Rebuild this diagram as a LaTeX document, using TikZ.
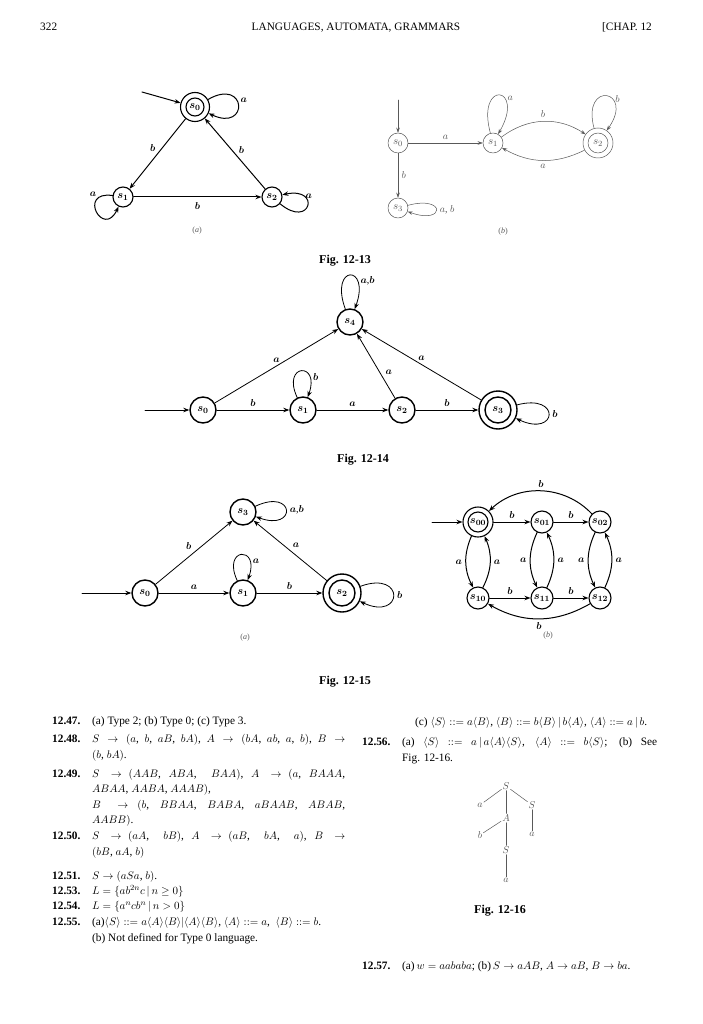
\documentclass[tikz,border=0pt]{standalone}
\usepackage{fontspec}
\setmainfont{Liberation Serif}
\usetikzlibrary{arrows.meta}
\newcommand\deff{\mathrel{::=}}
\newcommand\ang[1]{\langle #1\rangle}
\colorlet{figgray}{black!65}
\tikzset{
  txt/.style={anchor=base west,inner sep=0pt,font=\fontsize{11.3}{13}\selectfont},
  num/.style={txt,font=\fontsize{11.3}{13}\selectfont\bfseries},
  figcap/.style={anchor=base,inner sep=0pt,font=\fontsize{12}{14}\selectfont\bfseries},
  bfig/.style={font=\fontsize{10}{12}\selectfont\boldmath},
  gfig/.style={font=\fontsize{10}{12}\selectfont,color=figgray},
  bst/.style={circle,draw,line width=1.1pt,minimum size=20pt,inner sep=0pt,font=\fontsize{11}{13}\selectfont\boldmath},
  hst/.style={circle,draw,line width=1.4pt,minimum size=26pt,inner sep=0pt,font=\fontsize{11}{13}\selectfont\boldmath},
  mst/.style={circle,draw,line width=1.1pt,minimum size=22pt,inner sep=0pt,font=\fontsize{11}{13}\selectfont\boldmath},
  gst/.style={circle,draw=figgray,line width=.5pt,minimum size=20pt,inner sep=0pt,font=\fontsize{11}{13}\selectfont},
  bedge/.style={->,line width=1pt},
  hedge/.style={->,line width=.8pt},
  gedge/.style={->,draw=figgray,line width=.5pt,>={Stealth[length=5pt,width=3.5pt]}},
  tnode/.style={inner sep=1pt,font=\fontsize{10}{11}\selectfont,text=figgray},
}
\begin{document}
\begin{tikzpicture}[x=1pt,y=1pt,line join=round,line cap=round,>={Stealth[length=6pt,width=4.5pt]}]
\fill[white] (0,0) rectangle (703,-1024);
\useasboundingbox (0,0) rectangle (703,-1024);
% running head
\node[txt] (page) at (40,-31) {322};
\node[txt,anchor=base] (head) at (356,-31) {LANGUAGES, AUTOMATA, GRAMMARS};
\node[txt,anchor=base east] (chap) at (652,-31) {[CHAP. 12};

% Fig. 12-13 (a)
\begin{scope}[bfig]
\node[bst,minimum size=29pt] (a0) at (195,-107) {$s_0$};
\draw[line width=1.1pt] (a0.center) circle[radius=9pt];
\node[bst] (a1) at (123,-197) {$s_1$};
\node[bst] (a2) at (272,-197) {$s_2$};
\coordinate (ain) at (142,-92);
\draw[bedge] (ain) -- (a0);
\draw[bedge] (a0) -- node[pos=.42,left=3pt] {$b$} (a1);
\draw[bedge] (a2) -- node[pos=.55,right=3pt] {$b$} (a0);
\draw[bedge] (a1) -- node[below=2pt] {$b$} (a2);
\draw[bedge] (a0) to[out=30,in=-25,min distance=45pt] node[pos=.4,right] {$a$} (a0);
\draw[bedge] (a1) to[out=172,in=-115,min distance=36pt] node[pos=.2,above left=-2pt] {$a$} (a1);
\draw[bedge] (a2) to[out=-40,in=12,min distance=40pt] node[pos=.75,right=-1pt] {$a$} (a2);
\node[font=\footnotesize,color=figgray] (capa) at (197,-231) {(\textit{a})};
\end{scope}

% Fig. 12-13 (b)
\begin{scope}[gfig]
\node[gst] (b0) at (398,-143) {$s_0$};
\node[gst] (b1) at (493,-143) {$s_1$};
\node[gst,minimum size=30pt] (b2) at (598,-143) {$s_2$};
\draw[figgray,line width=.5pt] (b2.center) circle[radius=10pt];
\node[gst] (b3) at (398,-208) {$s_3$};
\coordinate (bin) at (398,-100);
\draw[gedge] (bin) -- (b0);
\draw[gedge] (b0) -- node[above] {$a$} (b1);
\draw[gedge] (b1) to[bend left=35] node[above] {$b$} (b2);
\draw[gedge] (b2) to[bend left=28] node[below] {$a$} (b1);
\draw[gedge] (b0) -- node[right] {$b$} (b3);
\draw[gedge] (b1) to[out=105,in=60,min distance=56pt] node[pos=.62,right] {$a$} (b1);
\draw[gedge] (b2) to[out=105,in=55,min distance=50pt] node[pos=.62,right] {$b$} (b2);
\draw[gedge] (b3) to[out=15,in=-20,min distance=40pt] node[pos=.5,right] {$a$, $b$} (b3);
\node[font=\footnotesize] (capb) at (503,-232) {(\textit{b})};
\end{scope}
\node[figcap] (fig13) at (345,-263) {Fig. 12-13};

% Fig. 12-14
\begin{scope}[bfig]
\node[hst] (c4) at (350,-322) {$s_4$};
\node[hst] (c0) at (203,-410) {$s_0$};
\node[hst] (c1) at (303,-410) {$s_1$};
\node[hst] (c2) at (402,-410) {$s_2$};
\node[hst,minimum size=38pt] (c3) at (498,-410) {$s_3$};
\draw[line width=1.4pt] (c3.center) circle[radius=13pt];
\coordinate (cin) at (145,-410);
\draw[hedge] (cin) -- (c0);
\draw[hedge] (c0) -- node[above] {$a$} (c4);
\draw[hedge] (c0) -- node[above] {$b$} (c1);
\draw[hedge] (c1) -- node[above] {$a$} (c2);
\draw[hedge] (c2) -- node[above] {$b$} (c3);
\draw[hedge] (c2) -- node[pos=.4,right=2pt] {$a$} (c4);
\draw[hedge] (c3) -- node[above] {$a$} (c4);
\draw[hedge] (c4) to[out=110,in=70,min distance=48pt] node[pos=.7,right] {$a$,$b$} (c4);
\draw[hedge] (c1) to[out=115,in=70,min distance=38pt] node[pos=.75,right] {$b$} (c1);
\draw[hedge] (c3) to[out=15,in=-25,min distance=46pt] node[right] {$b$} (c3);
\end{scope}
\node[figcap] (fig14) at (363,-462) {Fig. 12-14};

% Fig. 12-15 (a)
\begin{scope}[bfig]
\node[hst] (d3) at (243,-512) {$s_3$};
\node[hst] (d0) at (145,-593) {$s_0$};
\node[hst] (d1) at (243,-593) {$s_1$};
\node[hst,minimum size=38pt] (d2) at (342,-593) {$s_2$};
\draw[line width=1.4pt] (d2.center) circle[radius=13pt];
\coordinate (din) at (82,-593);
\draw[hedge] (din) -- (d0);
\draw[hedge] (d0) -- node[above left=-1pt] {$b$} (d3);
\draw[hedge] (d0) -- node[above] {$a$} (d1);
\draw[hedge] (d1) -- node[above] {$b$} (d2);
\draw[hedge] (d2) -- node[above right=-1pt] {$a$} (d3);
\draw[hedge] (d3) to[out=25,in=-20,min distance=44pt] node[right] {$a$,$b$} (d3);
\draw[hedge] (d1) to[out=115,in=70,min distance=37pt] node[pos=.75,right] {$a$} (d1);
\draw[hedge] (d2) to[out=20,in=-25,min distance=48pt] node[right] {$b$} (d2);
\node[font=\footnotesize,color=figgray] (capc) at (245,-638) {(\textit{a})};
\end{scope}

% Fig. 12-15 (b)
\begin{scope}[bfig]
\node[mst,minimum size=30pt] (e00) at (478,-522) {$s_{00}$};
\draw[line width=1.1pt] (e00.center) circle[radius=10pt];
\node[mst] (e01) at (542,-522) {$s_{01}$};
\node[mst] (e02) at (600,-522) {$s_{02}$};
\node[mst] (e10) at (478,-598) {$s_{10}$};
\node[mst] (e11) at (542,-598) {$s_{11}$};
\node[mst] (e12) at (600,-598) {$s_{12}$};
\coordinate (ein) at (432,-522);
\draw[bedge] (ein) -- (e00);
\draw[bedge] (e00) -- node[above] {$b$} (e01);
\draw[bedge] (e01) -- node[above] {$b$} (e02);
\draw[bedge] (e10) -- node[above] {$b$} (e11);
\draw[bedge] (e11) -- node[above] {$b$} (e12);
\foreach \u/\d in {e00/e10,e01/e11,e02/e12}{
  \draw[bedge] (\u) to[bend right=25] node[left] {$a$} (\d);
  \draw[bedge] (\d) to[bend right=25] node[right] {$a$} (\u);
}
\draw[bedge] (e02) to[bend right=45] node[above] {$b$} (e00);
\draw[bedge] (e12) to[bend left=30] node[below] {$b$} (e10);
\node[font=\footnotesize,color=figgray] (capd) at (548,-636) {(\textit{b})};
\end{scope}
\node[figcap] (fig15) at (345,-684) {Fig. 12-15};

% answers, left column
\foreach \n/\y [count=\i] in {47/724,48/742,49/777,50/839,51/879,53/894,54/909,55/925}
  \node[num] (nl\i) at (52,-\y) {12.\n.};
\node[txt] (l1) at (92,-724) {(a) Type 2; (b) Type 0; (c) Type 3.};
\node[txt] (l2) at (92,-742) {\makebox[253pt][s]{$S\to(a$, $b$, $aB$, $bA)$, $A\to(bA$, $ab$, $a$, $b)$, $B\to$}};
\node[txt] (l3) at (92,-758) {$(b$, $bA)$.};
\node[txt] (l4) at (92,-777) {\makebox[253pt][s]{$S\to$ $(AAB$, $ABA$, \ $BAA)$, $A\to$ $(a$, $BAAA$,}};
\node[txt] (l5) at (92,-792) {$ABAA$, $AABA$, $AAAB)$,};
\node[txt] (l6) at (92,-808) {\makebox[253pt][s]{$B\to$ $(b$, $BBAA$, $BABA$, $aBAAB$, $ABAB$,}};
\node[txt] (l7) at (92,-823) {$AABB)$.};
\node[txt] (l8) at (92,-839) {\makebox[253pt][s]{$S\to$ $(aA$, \ $bB)$, $A\to$ $(aB$, \ $bA$, \ $a)$, $B\to$}};
\node[txt] (l9) at (92,-855) {$(bB$, $aA$, $b)$};
\node[txt] (l10) at (92,-879) {$S\to(aSa$, $b)$.};
\node[txt] (l11) at (92,-894) {$L=\{ab^{2n}c\,|\,n\ge 0\}$};
\node[txt] (l12) at (92,-909) {$L=\{a^ncb^n\,|\,n>0\}$};
\node[txt] (l13) at (92,-925) {(a)$\ang{S}\deff a\ang{A}\ang{B}|\ang{A}\ang{B}$, $\ang{A}\deff a$, \ $\ang{B}\deff b$.};
\node[txt] (l14) at (92,-941) {(b) Not defined for Type 0 language.};

% answers, right column
\node[txt] (r1) at (415,-725) {(c) $\ang{S}\deff a\ang{B}$, $\ang{B}\deff b\ang{B}\,|\,b\ang{A}$, $\ang{A}\deff a\,|\,b$.};
\node[num] (nr1) at (362,-745) {12.56.};
\node[txt] (r2) at (402,-745) {\makebox[255pt][s]{(a) $\ang{S}$ $\deff$ $a\,|\,a\ang{A}\ang{S}$, $\ang{A}$ $\deff$ $b\ang{S}$; (b) See}};
\node[txt] (r3) at (402,-761) {Fig. 12-16.};

% Fig. 12-16
\node[tnode] (t0) at (506,-786) {$S$};
\node[tnode] (t1) at (480,-805) {$a$};
\node[tnode] (t2) at (532,-805) {$S$};
\node[tnode] (t3) at (506,-818) {$A$};
\node[tnode] (t4) at (480,-835) {$b$};
\node[tnode] (t5) at (532,-834) {$a$};
\node[tnode] (t6) at (506,-850) {$S$};
\node[tnode] (t7) at (506,-880) {$a$};
\foreach \p/\q in {t0/t1,t0/t3,t0/t2,t3/t4,t3/t6,t2/t5,t6/t7}
  \draw[figgray,line width=.5pt] (\p) -- (\q);
\node[figcap] (fig16) at (500,-913) {Fig. 12-16};

\node[num] (nr2) at (362,-969) {12.57.};
\node[txt] (r4) at (402,-969) {(a)\,$w=aababa$; (b)\,$S\to aAB$, $A\to aB$, $B\to ba$.};
\end{tikzpicture}
\end{document}
